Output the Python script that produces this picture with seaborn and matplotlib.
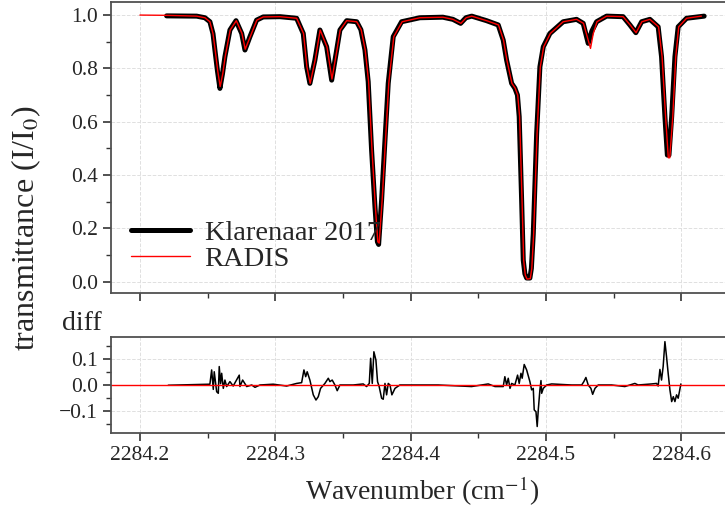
import numpy as np
import pandas as pd
import matplotlib
matplotlib.use("Agg")
import matplotlib.pyplot as plt
from matplotlib.ticker import MultipleLocator
import seaborn as sns

# ---- data ----
exp_wn = [2284.2197, 2284.2419, 2284.2480, 2284.2517, 2284.2540, 2284.2554, 2284.2573, 2284.2591,
          2284.2610, 2284.2628, 2284.2665, 2284.2710, 2284.2752, 2284.2776, 2284.2813, 2284.2862,
          2284.2911, 2284.3035, 2284.3158, 2284.3207, 2284.3232, 2284.3256, 2284.3293, 2284.3330,
          2284.3380, 2284.3417, 2284.3454, 2284.3478, 2284.3528, 2284.3602, 2284.3633, 2284.3663,
          2284.3687, 2284.3712, 2284.3737, 2284.3755, 2284.3764, 2284.3786, 2284.3811, 2284.3835, 2284.3848,
          2284.3872, 2284.3934, 2284.4069, 2284.4239, 2284.4313, 2284.4370, 2284.4409, 2284.4452,
          2284.4562, 2284.4648, 2284.4685, 2284.4710, 2284.4747, 2284.4771, 2284.4790, 2284.4803,
          2284.4821, 2284.4833, 2284.4845, 2284.4858, 2284.4882, 2284.4893, 2284.4907, 2284.4932,
          2284.4956, 2284.4981, 2284.5030, 2284.5128,
          2284.5227, 2284.5276, 2284.5313, 2284.5340, 2284.5375, 2284.5449, 2284.5571,
          2284.5621, 2284.5665, 2284.5708, 2284.5769, 2284.5830, 2284.5855, 2284.5880, 2284.5898,
          2284.5910, 2284.5930, 2284.5954, 2284.5978, 2284.6040, 2284.6170]
exp_T = [0.997, 0.996, 0.990, 0.975, 0.930, 0.869, 0.790, 0.725,
         0.780, 0.844, 0.944, 0.979, 0.931, 0.869, 0.919, 0.981,
         0.993, 0.994, 0.988, 0.931, 0.806, 0.744, 0.831, 0.944,
         0.881, 0.756, 0.869, 0.944, 0.979, 0.975, 0.945, 0.869,
         0.750, 0.494, 0.281, 0.150, 0.140, 0.306, 0.531, 0.744, 0.806,
         0.919, 0.975, 0.990, 0.992, 0.984, 0.969, 0.990, 0.996,
         0.979, 0.963, 0.906, 0.831, 0.744, 0.726, 0.700, 0.619,
         0.306, 0.081, 0.030, 0.014, 0.014, 0.050, 0.180, 0.556,
         0.806, 0.881, 0.931, 0.975,
         0.984, 0.969, 0.894, 0.940, 0.975, 0.996, 0.994,
         0.963, 0.934, 0.975, 0.984, 0.956, 0.844, 0.619, 0.475,
         0.475, 0.619, 0.844, 0.956, 0.988, 0.996]

radis_wn = [2284.2000, 2284.2200, 2284.2419, 2284.2480, 2284.2517, 2284.2540, 2284.2556, 2284.2575,
            2284.2593, 2284.2612, 2284.2630, 2284.2667, 2284.2712, 2284.2754, 2284.2778, 2284.2815,
            2284.2864, 2284.2911, 2284.3035, 2284.3158, 2284.3209, 2284.3234, 2284.3258, 2284.3295,
            2284.3332, 2284.3382, 2284.3419, 2284.3456, 2284.3480, 2284.3528, 2284.3602, 2284.3635,
            2284.3665, 2284.3690, 2284.3715, 2284.3740, 2284.3758, 2284.3768, 2284.3790, 2284.3815, 2284.3839,
            2284.3852, 2284.3876, 2284.3938, 2284.4069, 2284.4239, 2284.4313, 2284.4372, 2284.4411,
            2284.4452, 2284.4562, 2284.4650, 2284.4687, 2284.4712, 2284.4749, 2284.4773, 2284.4792,
            2284.4806, 2284.4824, 2284.4836, 2284.4848, 2284.4861, 2284.4885, 2284.4896, 2284.4910,
            2284.4935, 2284.4959, 2284.4984, 2284.5033, 2284.5128,
            2284.5227, 2284.5278, 2284.5330, 2284.5350, 2284.5378, 2284.5449,
            2284.5571, 2284.5623, 2284.5667, 2284.5710, 2284.5769, 2284.5833, 2284.5859, 2284.5885,
            2284.5905, 2284.5916, 2284.5938, 2284.5960, 2284.5982, 2284.6040, 2284.6150]
radis_T = [1.000, 0.999, 0.996, 0.990, 0.975, 0.930, 0.869, 0.790,
           0.732, 0.780, 0.844, 0.944, 0.979, 0.931, 0.872, 0.919,
           0.981, 0.993, 0.994, 0.988, 0.931, 0.806, 0.744, 0.831,
           0.944, 0.881, 0.760, 0.869, 0.944, 0.979, 0.975, 0.945,
           0.869, 0.750, 0.494, 0.281, 0.150, 0.145, 0.306, 0.531, 0.744,
           0.806, 0.919, 0.975, 0.990, 0.992, 0.984, 0.969, 0.990,
           0.996, 0.979, 0.963, 0.906, 0.831, 0.744, 0.726, 0.700,
           0.619, 0.306, 0.081, 0.025, 0.010, 0.012, 0.050, 0.180,
           0.556, 0.806, 0.881, 0.931, 0.975,
           0.984, 0.969, 0.875, 0.930, 0.975, 0.996,
           0.994, 0.963, 0.934, 0.975, 0.984, 0.956, 0.844, 0.619,
           0.465, 0.465, 0.619, 0.844, 0.956, 0.988, 0.996]

diff_wn = [2284.2209, 2284.2517, 2284.2530, 2284.2542, 2284.2549, 2284.2567, 2284.2579, 2284.2586,
           2284.2596, 2284.2604, 2284.2616, 2284.2628, 2284.2641, 2284.2665, 2284.2689, 2284.2734,
           2284.2739, 2284.2759, 2284.2789, 2284.2826, 2284.2850, 2284.2887, 2284.2985, 2284.3084,
           2284.3158, 2284.3195, 2284.3212, 2284.3225, 2284.3236, 2284.3256, 2284.3281, 2284.3301,
           2284.3318, 2284.3335, 2284.3367, 2284.3392, 2284.3404, 2284.3421, 2284.3441, 2284.3458,
           2284.3478, 2284.3576, 2284.3650, 2284.3675, 2284.3695, 2284.3705, 2284.3717, 2284.3729,
           2284.3744, 2284.3756, 2284.3768, 2284.3786, 2284.3798, 2284.3811, 2284.3823, 2284.3835,
           2284.3848, 2284.3862, 2284.3885, 2284.3921, 2284.4069, 2284.4204, 2284.4451, 2284.4574,
           2284.4624, 2284.4685, 2284.4697, 2284.4710, 2284.4722, 2284.4735, 2284.4747, 2284.4771,
           2284.4791, 2284.4803, 2284.4816, 2284.4825, 2284.4840, 2284.4858, 2284.4882, 2284.4895,
           2284.4907, 2284.4914, 2284.4927, 2284.4936, 2284.4944, 2284.4956, 2284.4964, 2284.4969,
           2284.4981, 2284.5006, 2284.5043, 2284.5191, 2284.5265, 2284.5281, 2284.5296, 2284.5313,
           2284.5333, 2284.5346, 2284.5363, 2284.5387, 2284.5486, 2284.5584, 2284.5658, 2284.5682,
           2284.5781, 2284.5818, 2284.5830, 2284.5843, 2284.5855, 2284.5867, 2284.5880, 2284.5892,
           2284.5904, 2284.5917, 2284.5930, 2284.5942, 2284.5954, 2284.5966, 2284.5978, 2284.5998]
diff_val = [-0.001, 0.003, 0.058, -0.017, 0.051, -0.026, -0.032, 0.071,
            0.005, 0.045, -0.013, 0.019, -0.006, 0.013, -0.004, 0.038,
            -0.006, 0.019, -0.006, 0.000, -0.009, 0.000, 0.003, -0.004,
            0.006, 0.009, 0.058, 0.032, 0.051, 0.019, -0.038, -0.058,
            -0.045, -0.013, 0.006, 0.026, 0.013, 0.019, 0.000, -0.022,
            0.000, 0.000, 0.004, -0.006, 0.006, 0.103, 0.006, 0.128,
            0.096, 0.013, -0.006, -0.051, -0.055, 0.006, -0.038, 0.006,
            0.000, -0.038, -0.013, 0.000, 0.000, 0.000, -0.006, 0.004,
            -0.006, -0.006, 0.032, 0.000, 0.026, -0.013, 0.006, 0.000,
            0.038, 0.006, 0.045, 0.026, 0.079, 0.058, 0.013, -0.019,
            -0.013, -0.096, -0.103, -0.160, -0.096, -0.019, 0.017, -0.032,
            -0.013, 0.000, 0.004, 0.000, 0.000, 0.013, 0.029, 0.000,
            -0.013, -0.036, -0.013, 0.000, 0.000, -0.006, 0.006, 0.000,
            0.004, 0.006, -0.004, 0.060, 0.019, 0.071, 0.167, 0.109,
            0.045, -0.019, -0.064, -0.045, -0.064, -0.038, -0.051, 0.004]

x_ticks = [2284.2, 2284.3, 2284.4, 2284.5, 2284.6]

# ---- style ----
sns.set_style("ticks")
plt.rcParams["font.family"] = ["Liberation Serif", "DejaVu Serif"]
plt.rcParams["mathtext.fontset"] = "stix"
SPINE = "#505050"

fig = plt.figure(figsize=(7.25, 5.14), dpi=100)
ax1 = fig.add_axes([0.1531, 0.4300, 0.8969, 0.5661])
ax2 = fig.add_axes([0.1531, 0.1576, 0.8969, 0.1868])

df_exp = pd.DataFrame({"wn": exp_wn, "T": exp_T})
df_rad = pd.DataFrame({"wn": radis_wn, "T": radis_T})
df_diff = pd.DataFrame({"wn": diff_wn, "d": diff_val})

sns.lineplot(data=df_exp, x="wn", y="T", ax=ax1, color="k", lw=3.6,
             sort=False, estimator=None, label="Klarenaar 2017")
sns.lineplot(data=df_rad, x="wn", y="T", ax=ax1, color="red", lw=1.0,
             sort=False, estimator=None, label="RADIS")
sns.lineplot(data=df_diff, x="wn", y="d", ax=ax2, color="k", lw=1.1,
             sort=False, estimator=None)
ax2.axhline(0, color="red", lw=1.0)

xmin = 2284.1786
xmax = 2284.1786 + (0.8969 * 725) / 1353.0
for ax in (ax1, ax2):
    ax.set_xlim(xmin, xmax)
    ax.set_xticks(x_ticks)
    ax.xaxis.set_minor_locator(MultipleLocator(0.05))
    ax.grid(True, which="major", ls="--", lw=0.7, color="#e0e0e0")
    ax.set_xlabel("")
    ax.set_ylabel("")
    for s in ax.spines.values():
        s.set_color(SPINE)
        s.set_linewidth(1.3)
    ax.tick_params(which="major", length=6, width=1.2, color="#333333",
                   labelsize=15.5, direction="out")
    ax.tick_params(which="minor", length=3.5, width=1.0, color="#333333",
                   direction="out")

ax1.set_ylim(-0.042, 1.049)
ax1.set_yticks([0.0, 0.2, 0.4, 0.6, 0.8, 1.0])
ax1.yaxis.set_minor_locator(MultipleLocator(0.1))
ax1.tick_params(axis="x", labelbottom=False)

ax2.set_ylim(-0.185, 0.185)
ax2.set_yticks([-0.1, 0.0, 0.1])
ax2.set_yticklabels(["\u22120.1", "0.0", "0.1"])
ax2.yaxis.set_minor_locator(MultipleLocator(0.05))
ax2.set_xticklabels([f"{t:.1f}" for t in x_ticks])

leg = ax1.legend(loc="lower left", bbox_to_anchor=(0.03, 0.072), frameon=False,
                 fontsize=20.5, handlelength=2.1, handletextpad=0.5,
                 borderpad=0, borderaxespad=0, labelspacing=0.0)

fig.text(0.036, 0.556, r"transmittance (I/I$_0$)", rotation=90, ha="center",
         va="center", fontsize=23)
fig.text(0.0855, 0.358, "diff", ha="left", va="baseline", fontsize=20)
fig.text(0.582, 0.027, r"Wavenumber (cm$^{-1}$)", ha="center", va="baseline",
         fontsize=20)

fig.savefig("out.png", dpi=100)
